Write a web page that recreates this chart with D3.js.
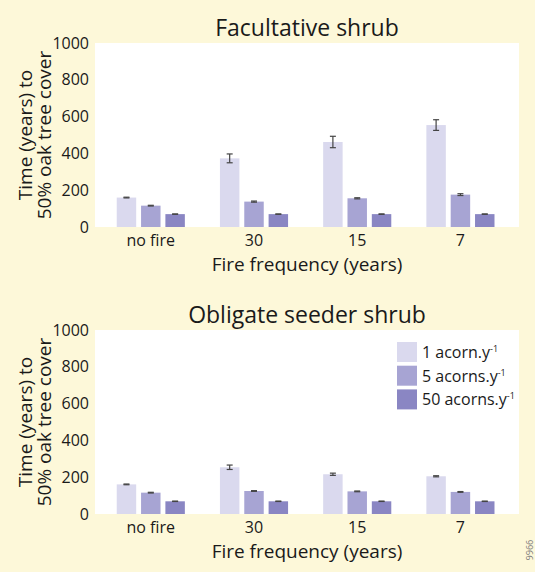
<!DOCTYPE html>
<html><head><meta charset="utf-8">
<script src="https://cdn.jsdelivr.net/npm/d3@7"></script>
<style>
html,body{margin:0;padding:0;background:#fdf8d9;}
svg{display:block;}
text{font-family:"Open Sans","Noto Sans",sans-serif;fill:#1a1a1a;}
</style></head>
<body>
<svg id="chart" width="535" height="572"></svg>
<script>
const categories = ["no fire", "30", "15", "7"];
const seriesNames = ["1 acorn.y", "5 acorns.y", "50 acorns.y"];
const yTicks = [0, 200, 400, 600, 800, 1000];

// Facultative shrub
const facAcorn1 = [160, 373, 462, 554];
const facAcorn1Err = [2, 24, 31, 29];
const facAcorn5 = [116, 138, 156, 176];
const facAcorn5Err = [2, 3, 3, 5];
const facAcorn50 = [70, 70, 70, 70];
const facAcorn50Err = [1, 1, 1, 1];

// Obligate seeder shrub
const oblAcorn1 = [161, 254, 216, 205];
const oblAcorn1Err = [2, 12, 6, 3];
const oblAcorn5 = [116, 125, 123, 120];
const oblAcorn5Err = [2, 2, 2, 2];
const oblAcorn50 = [69, 69, 69, 69];
const oblAcorn50Err = [1, 1, 1, 1];

const panels = [
  {title: "Facultative shrub", top: 0, means: [facAcorn1, facAcorn5, facAcorn50], errs: [facAcorn1Err, facAcorn5Err, facAcorn50Err], legend: false},
  {title: "Obligate seeder shrub", top: 287, means: [oblAcorn1, oblAcorn5, oblAcorn50], errs: [oblAcorn1Err, oblAcorn5Err, oblAcorn50Err], legend: true}
];

const colors = ["#dad9ee", "#a7a4d3", "#8a86c3"];
const svg = d3.select("#chart");
svg.append("rect").attr("width", 535).attr("height", 572).attr("fill", "#fdf8d9");

const plotL = 95, plotR = 519, plotH = 184, plotTop = 43;

const x0 = d3.scaleBand().domain(categories).range([plotL, plotR])
  .paddingInner(0.34).paddingOuter(0.224).align(0.47);
const x1 = d3.scaleBand().domain(d3.range(seriesNames.length)).range([0, x0.bandwidth()]).paddingInner(0.2);

panels.forEach(p => {
  const g = svg.append("g").attr("transform", `translate(0,${p.top})`);
  const y = d3.scaleLinear().domain([0, 1000]).range([plotTop + plotH, plotTop]);

  g.append("rect").attr("x", plotL).attr("y", plotTop).attr("width", plotR - plotL).attr("height", plotH).attr("fill", "#ffffff");

  g.append("text").attr("x", 307).attr("y", 36).attr("text-anchor", "middle")
    .style("font-size", "23px").text(p.title);

  // y axis
  const yAxis = d3.axisLeft(y).tickValues(yTicks).tickFormat(d3.format("d")).tickSize(0).tickPadding(6);
  const ya = g.append("g").attr("transform", `translate(${plotL},0)`).call(yAxis);
  ya.select(".domain").remove();
  ya.selectAll("text").style("font-size", "16px").style("font-family", '"Open Sans","Noto Sans",sans-serif').attr("fill", "#1a1a1a");

  // x axis
  const xAxis = d3.axisBottom(x0).tickSize(0).tickPadding(8);
  const xa = g.append("g").attr("transform", `translate(0,${plotTop + plotH})`).call(xAxis);
  xa.select(".domain").remove();
  xa.selectAll("text").style("font-size", "16px").style("font-family", '"Open Sans","Noto Sans",sans-serif').attr("fill", "#1a1a1a");

  // bars
  categories.forEach((c, ci) => {
    p.means.forEach((arr, si) => {
      const bx = x0(c) + x1(si);
      g.append("rect").attr("x", bx).attr("y", y(arr[ci])).attr("width", x1.bandwidth())
        .attr("height", y(0) - y(arr[ci])).attr("fill", colors[si]);
      const e = p.errs[si][ci];
      const cx = bx + x1.bandwidth() / 2;
      const eg = g.append("g").attr("stroke", "#444").attr("stroke-width", 1.2);
      eg.append("line").attr("x1", cx).attr("x2", cx).attr("y1", y(arr[ci] + e)).attr("y2", y(arr[ci] - e));
      eg.append("line").attr("x1", cx - 3).attr("x2", cx + 3).attr("y1", y(arr[ci] + e)).attr("y2", y(arr[ci] + e));
      eg.append("line").attr("x1", cx - 3).attr("x2", cx + 3).attr("y1", y(arr[ci] - e)).attr("y2", y(arr[ci] - e));
    });
  });

  // axis titles
  g.append("text").attr("x", 307).attr("y", 271).attr("text-anchor", "middle")
    .style("font-size", "19px").text("Fire frequency (years)");
  const yt = g.append("text").attr("transform", `translate(32,${plotTop + plotH / 2}) rotate(-90)`)
    .attr("text-anchor", "middle").style("font-size", "19px");
  yt.append("tspan").attr("x", 0).attr("dy", 0).text("Time (years) to");
  yt.append("tspan").attr("x", 0).attr("dy", 19).text("50% oak tree cover");

  if (p.legend) {
    const lg = g.append("g").attr("transform", "translate(397,55)");
    seriesNames.forEach((s, i) => {
      lg.append("rect").attr("x", 0).attr("y", i * 23.7).attr("width", 20).attr("height", 20).attr("fill", colors[i]);
      const t = lg.append("text").attr("x", 25).attr("y", i * 23.7 + 16).style("font-size", "16px");
      t.append("tspan").text(s);
      t.append("tspan").attr("dy", -6).style("font-size", "9px").text("-1");
    });
  }
});

svg.append("text").attr("transform", "translate(526,550) rotate(90)").attr("text-anchor", "middle")
  .style("font-size", "9px").style("fill", "#777").text("9966");
</script>
</body></html>
